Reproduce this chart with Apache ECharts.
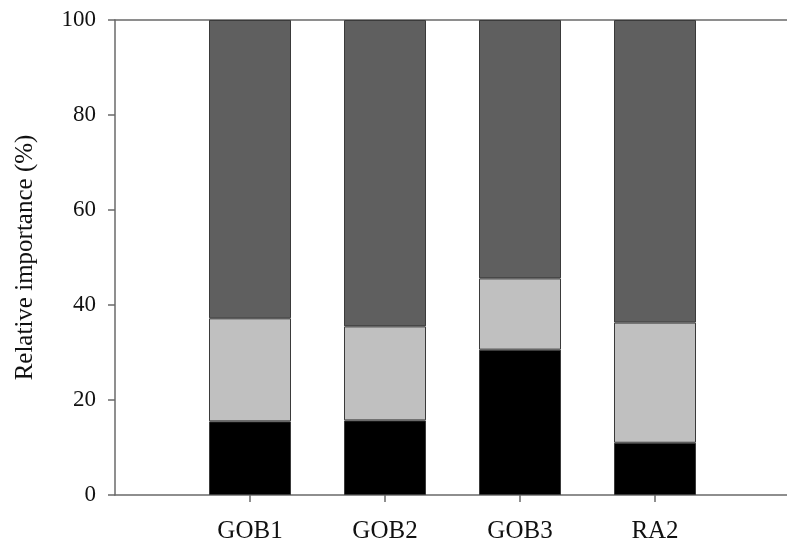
<!DOCTYPE html>
<html>
<head>
<meta charset="utf-8">
<script src="https://cdn.jsdelivr.net/npm/echarts@6/dist/echarts.min.js"></script>
<style>html,body{margin:0;padding:0;background:#fff}#c{width:787px;height:544px}</style>
</head>
<body>
<div id="c"></div>
<script>
const categories = ['GOB1', 'GOB2', 'GOB3', 'RA2'];
const blackPart = [15.5, 15.7, 30.6, 11.0];
const lightPart = [21.7, 19.8, 15.0, 25.3];
const darkPart = [62.8, 64.5, 54.4, 63.7];
const yTicks = [0, 20, 40, 60, 80, 100];

const chart = echarts.init(document.getElementById('c'));
const font = '"Liberation Serif", "Times New Roman", serif';
const axisColor = '#6a6a6a';
function barSeries(vals, color) {
  return {
    type: 'bar', stack: 'all', data: vals, barWidth: 82,
    xAxisIndex: 0, yAxisIndex: 0,
    itemStyle: { color: color, borderColor: '#3a3a3a', borderWidth: 1 },
    silent: true
  };
}
chart.setOption({
  animation: false,
  grid: [
    { left: 182.5, right: 64.5, top: 20, bottom: 49, containLabel: false, outerBoundsMode: 'none' },
    { left: 115, right: 0, top: 20, bottom: 49, containLabel: false, outerBoundsMode: 'none' }
  ],
  xAxis: [{
    gridIndex: 0, type: 'category', data: categories, position: 'bottom',
    axisLine: { show: false },
    axisTick: { show: true, alignWithLabel: true, length: 7, lineStyle: { color: axisColor, width: 1.5 } },
    axisLabel: { margin: 24, color: '#111', fontFamily: font, fontSize: 25 },
    splitLine: { show: false }
  }, {
    gridIndex: 1, type: 'value', min: 0, max: 1, position: 'bottom',
    splitLine: { show: false },
    axisLine: { show: true, onZero: false, lineStyle: { color: axisColor, width: 1.5 } },
    axisTick: { show: false }, axisLabel: { show: false }
  }, {
    gridIndex: 1, type: 'value', min: 0, max: 1, position: 'top',
    splitLine: { show: false },
    axisLine: { show: true, onZero: false, lineStyle: { color: axisColor, width: 1.5 } },
    axisTick: { show: false }, axisLabel: { show: false }
  }],
  yAxis: [{
    gridIndex: 0, type: 'value', min: 0, max: 100, show: false
  }, {
    gridIndex: 1, type: 'value', min: 0, max: 100, interval: 20,
    name: 'Relative importance (%)', nameLocation: 'middle', nameGap: 77, nameRotate: 90,
    nameMoveOverlap: false,
    nameTextStyle: { color: '#111', fontFamily: font, fontSize: 25 },
    splitLine: { show: false },
    axisLine: { show: true, lineStyle: { color: axisColor, width: 1.5 } },
    axisTick: { show: true, length: 7, lineStyle: { color: axisColor, width: 1.5 } },
    axisLabel: { color: '#111', fontFamily: font, fontSize: 23, margin: 19, customValues: yTicks }
  }],
  series: [
    barSeries(blackPart, '#000000'),
    barSeries(lightPart, '#c0c0c0'),
    barSeries(darkPart, '#5f5f5f')
  ]
});
</script>
</body>
</html>
